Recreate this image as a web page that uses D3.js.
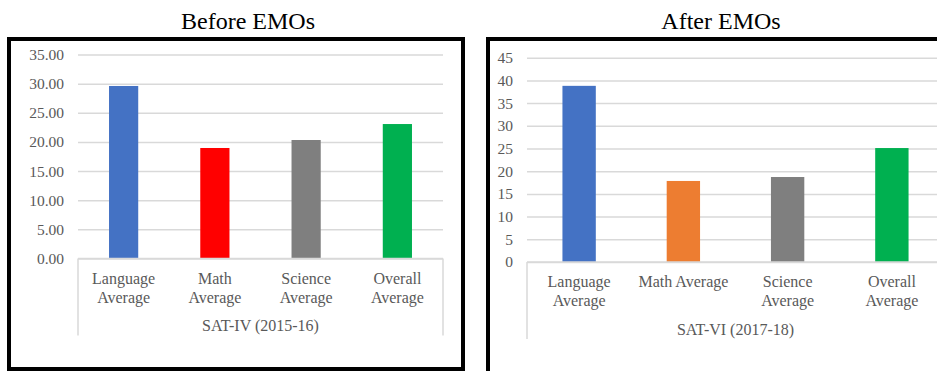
<!DOCTYPE html>
<html>
<head>
<meta charset="utf-8">
<script src="https://cdn.jsdelivr.net/npm/d3@7"></script>
<style>
  body { margin: 0; background: #fff; }
  svg { display: block; }
  text { font-family: "Liberation Serif", "Times New Roman", serif; }
</style>
</head>
<body>
<svg id="chart" width="937" height="371"></svg>
<script>
// data
const categories = ["Language Average", "Math Average", "Science Average", "Overall Average"];
const beforeValues = [29.6, 18.96, 20.33, 23.07];
const afterValues = [38.8, 17.85, 18.72, 25.1];
const beforeColors = ["#4472C4", "#FF0000", "#7F7F7F", "#00B050"];
const afterColors = ["#4472C4", "#ED7D31", "#7F7F7F", "#00B050"];
const beforeTicks = [0, 5, 10, 15, 20, 25, 30, 35];
const afterTicks = [0, 5, 10, 15, 20, 25, 30, 35, 40, 45];

var svg = d3.select("#chart");
var gridColor = "#d9d9d9";
var textColor = "#595959";

// wrap a category label onto lines that fit the width
function wrap(sel, width) {
  sel.each(function() {
    var t = d3.select(this);
    var words = t.text().split(" ");
    t.text(null);
    var line = [];
    var tspan = t.append("tspan").attr("x", 0).attr("dy", 0);
    words.forEach(w => {
      line.push(w);
      tspan.text(line.join(" "));
      if (tspan.node().getComputedTextLength() > width && line.length > 1) {
        line.pop();
        tspan.text(line.join(" "));
        line = [w];
        tspan = t.append("tspan").attr("x", 0).attr("dy", 19).text(w);
      }
    });
  });
}

function drawPanel(opt) {
  // frame
  svg.append("rect")
    .attr("x", opt.frame[0]).attr("y", opt.frame[1])
    .attr("width", opt.frame[2]).attr("height", opt.frame[3])
    .attr("fill", "#fff").attr("stroke", "#000").attr("stroke-width", 4);

  svg.append("text")
    .attr("x", opt.titleX).attr("y", 29)
    .attr("text-anchor", "middle")
    .style("font-size", "24px").attr("fill", "#000")
    .text(opt.title);

  var x = d3.scaleBand().domain(categories)
    .range([opt.left, opt.right]).paddingInner(0.68).paddingOuter(0.34);
  var y = d3.scaleLinear().domain([0, opt.max]).range([opt.bottom, opt.top]);

  var g = svg.append("g");

  // gridlines + tick labels
  var yAxis = d3.axisLeft(y).tickValues(opt.ticks)
    .tickSize(-(opt.right - opt.left)).tickPadding(14)
    .tickFormat(opt.fmt);
  var ax = g.append("g").attr("transform", `translate(${opt.left},0)`).call(yAxis);
  ax.select(".domain").remove();
  ax.selectAll(".tick line").attr("stroke", gridColor).attr("stroke-width", 1.5);
  ax.selectAll(".tick text").attr("fill", textColor)
    .style("font-size", "15.5px").style("font-family", "Liberation Serif, serif");

  // bars
  g.selectAll(".bar").data(opt.values).enter().append("rect")
    .attr("x", (d, i) => x(categories[i]))
    .attr("width", x.bandwidth())
    .attr("y", d => y(d))
    .attr("height", d => y(0) - y(d))
    .attr("fill", (d, i) => opt.colors[i]);

  // category axis line and outer separators
  g.append("line")
    .attr("x1", opt.left).attr("x2", opt.right)
    .attr("y1", opt.bottom).attr("y2", opt.bottom)
    .attr("stroke", gridColor).attr("stroke-width", 1.5);
  [opt.left, opt.right].forEach(px => {
    g.append("line")
      .attr("x1", px).attr("x2", px)
      .attr("y1", opt.bottom).attr("y2", opt.bottom + 77)
      .attr("stroke", gridColor).attr("stroke-width", 1.5);
  });

  // category labels
  g.selectAll(".cat").data(categories).enter().append("text")
    .attr("transform", d => `translate(${x(d) + x.bandwidth() / 2},${opt.bottom + 25})`)
    .attr("text-anchor", "middle")
    .attr("fill", textColor)
    .style("font-size", "16px")
    .text(d => d)
    .call(wrap, x.step() - 4);

  // group label
  g.append("text")
    .attr("x", (opt.left + opt.right) / 2).attr("y", opt.bottom + opt.groupDy)
    .attr("text-anchor", "middle")
    .attr("fill", textColor)
    .style("font-size", "16px")
    .text(opt.group);
}

drawPanel({
  title: "Before EMOs", titleX: 248,
  frame: [9, 39, 454, 330],
  left: 78, right: 443, top: 54.5, bottom: 258.5,
  max: 35, ticks: beforeTicks, fmt: d3.format(".2f"),
  values: beforeValues, colors: beforeColors,
  group: "SAT-IV (2015-16)", groupDy: 72
});

drawPanel({
  title: "After EMOs", titleX: 721,
  frame: [488, 39, 500, 400],
  left: 527, right: 944, top: 57.7, bottom: 262,
  max: 45, ticks: afterTicks, fmt: d3.format("d"),
  values: afterValues, colors: afterColors,
  group: "SAT-VI (2017-18)", groupDy: 73
});
</script>
</body>
</html>
